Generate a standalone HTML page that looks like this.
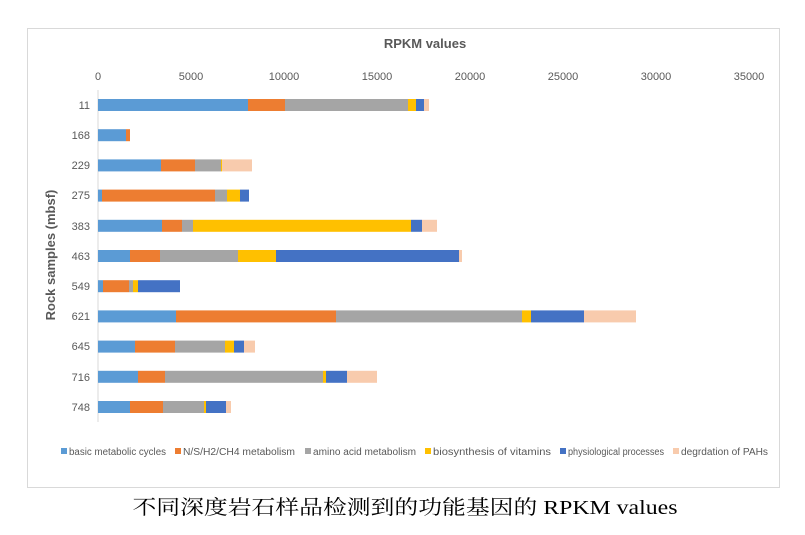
<!DOCTYPE html>
<html><head><meta charset="utf-8"><style>
body{margin:0;background:#fff;width:805px;height:530px;overflow:hidden}
svg text{font-family:"Liberation Sans",sans-serif}
</style></head><body>
<svg width="805" height="530" xmlns="http://www.w3.org/2000/svg">
<rect x="27.5" y="28.5" width="752" height="459" fill="#fff" stroke="#d9d9d9"/>
<text x="425" y="48" text-anchor="middle" font-size="13" font-weight="bold" fill="#595959">RPKM values</text>
<g font-size="11" fill="#595959" text-anchor="middle">
<text x="98" y="80">0</text><text x="191" y="80">5000</text><text x="284" y="80">10000</text><text x="377" y="80">15000</text><text x="470" y="80">20000</text><text x="563" y="80">25000</text><text x="656" y="80">30000</text><text x="749" y="80">35000</text>
</g>
<line x1="98" y1="90" x2="98" y2="422" stroke="#d9d9d9"/>
<g font-size="11" fill="#595959" text-anchor="end">
<text x="90" y="109">11</text><text x="90" y="139">168</text><text x="90" y="169">229</text><text x="90" y="199">275</text><text x="90" y="230">383</text><text x="90" y="260">463</text><text x="90" y="290">549</text><text x="90" y="320">621</text><text x="90" y="350">645</text><text x="90" y="381">716</text><text x="90" y="411">748</text>
</g>
<text transform="translate(55,255) rotate(-90)" text-anchor="middle" font-size="13" font-weight="bold" fill="#595959">Rock samples  (mbsf)</text>
<g id="bars"></g>
<g font-size="10" fill="#595959">
<rect x="61" y="448" width="6" height="6" fill="#5b9bd5"/><text x="69" y="455" textLength="97" lengthAdjust="spacingAndGlyphs">basic metabolic cycles</text>
<rect x="175" y="448" width="6" height="6" fill="#ed7d31"/><text x="183" y="455" textLength="112" lengthAdjust="spacingAndGlyphs">N/S/H2/CH4 metabolism</text>
<rect x="305" y="448" width="6" height="6" fill="#a5a5a5"/><text x="313" y="455" textLength="103" lengthAdjust="spacingAndGlyphs">amino acid metabolism</text>
<rect x="425" y="448" width="6" height="6" fill="#ffc000"/><text x="433" y="455" textLength="118" lengthAdjust="spacingAndGlyphs">biosynthesis of vitamins</text>
<rect x="560" y="448" width="6" height="6" fill="#4472c4"/><text x="568" y="455" textLength="96" lengthAdjust="spacingAndGlyphs">physiological processes</text>
<rect x="673" y="448" width="6" height="6" fill="#f8cbad"/><text x="681" y="455" textLength="87" lengthAdjust="spacingAndGlyphs">degrdation of PAHs</text>
</g>
<text x="405" y="514" text-anchor="middle" font-size="20" fill="#000" style="font-family:'Liberation Serif','Noto Serif CJK SC',serif" textLength="545" lengthAdjust="spacingAndGlyphs">不同深度岩石样品检测到的功能基因的 RPKM values</text>
</svg>
<script>
var C=["#5b9bd5","#ed7d31","#a5a5a5","#ffc000","#4472c4","#f8cbad"];
var rows=[[248,285,408,416,424,429],[126,130,130,130,130,130],[161,195,221,222,222,252],[102,215,227,240,249,249],[162,182,193,411,422,437],[130,160,238,276,459,462],[103,129,133,138,180,180],[176,336,522,531,584,636],[135,175,225,234,244,255],[138,165,323,326,347,377],[130,163,204,206,226,231]];
var g=document.getElementById("bars"),s="";
rows.forEach(function(r,i){var y=99+i*30.2,x=98;r.forEach(function(e,j){if(e>x){s+='<rect x="'+x+'" y="'+y.toFixed(1)+'" width="'+(e-x)+'" height="12" fill="'+C[j]+'"/>';x=e;}});});
g.innerHTML=s;
</script>
</body></html>
